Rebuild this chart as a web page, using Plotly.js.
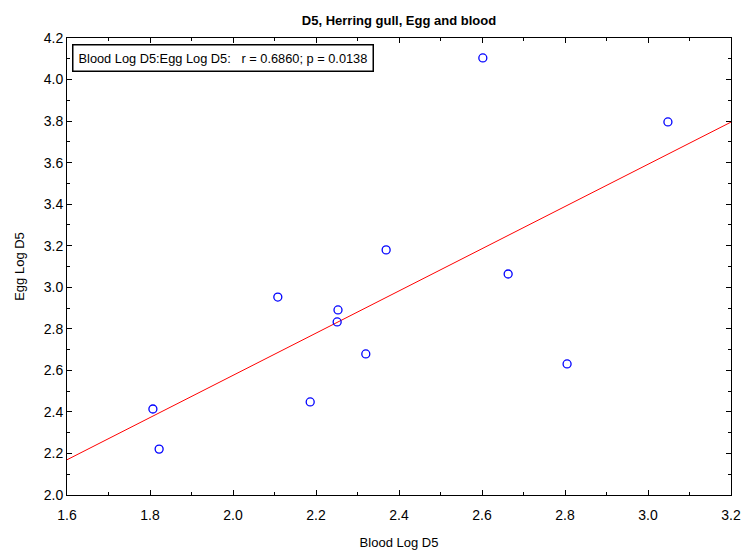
<!DOCTYPE html>
<html>
<head>
<meta charset="utf-8">
<script src="https://cdn.plot.ly/plotly-3.0.1.min.js"></script>
<style>html,body{margin:0;padding:0;background:#fff;}#chart{width:743px;height:551px;}</style>
</head>
<body>
<div id="chart"></div>
<script>
const bloodLogD5 = [1.807, 1.822, 2.108, 2.186, 2.253, 2.251, 2.320, 2.369, 2.602, 2.663, 2.805, 3.048];
const eggLogD5   = [2.414, 2.221, 2.953, 2.448, 2.891, 2.833, 2.679, 3.180, 4.104, 3.064, 2.631, 3.796];
const xTickVals = [1.6, 1.8, 2.0, 2.2, 2.4, 2.6, 2.8, 3.0, 3.2];
const yTickVals = [2.0, 2.2, 2.4, 2.6, 2.8, 3.0, 3.2, 3.4, 3.6, 3.8, 4.0, 4.2];
const statsLabel = "Blood Log D5:Egg Log D5:   r = 0.6860; p = 0.0138";

// least-squares fit
const n = bloodLogD5.length;
const mx = bloodLogD5.reduce((a,b)=>a+b,0)/n;
const my = eggLogD5.reduce((a,b)=>a+b,0)/n;
let sxy=0, sxx=0;
for (let i=0;i<n;i++){ sxy += (bloodLogD5[i]-mx)*(eggLogD5[i]-my); sxx += (bloodLogD5[i]-mx)**2; }
const slope = sxy/sxx, intercept = my - slope*mx;
const fitX = [xTickVals[0], xTickVals[xTickVals.length-1]];
const fitY = fitX.map(x => intercept + slope*x);

const font = "Liberation Sans, Arial, sans-serif";
const axisCommon = {
  showgrid:false, zeroline:false, showline:true, mirror:'ticks', linecolor:'#000', linewidth:1,
  ticks:'inside', ticklen:5, tickcolor:'#000', tickfont:{family:font,size:14,color:'#000'},
  tickformat:'.1f',
  minor:{ticks:'inside', ticklen:3, tickcolor:'#000', dtick:0.1}
};
const traces = [
  {x:fitX, y:fitY, mode:'lines', line:{color:'#ff0000', width:1}, hoverinfo:'skip'},
  {x:bloodLogD5, y:eggLogD5, mode:'markers', marker:{symbol:'circle-open', size:8, color:'#0000ff', line:{width:1.3, color:'#0000ff'}}}
];
const layout = {
  width:743, height:551, showlegend:false,
  paper_bgcolor:'#fff', plot_bgcolor:'#fff',
  margin:{l:67, r:12, t:38, b:56},
  title:{text:'<b>D5, Herring gull, Egg and blood</b>', font:{family:font,size:13,color:'#000'}, x:0.537, xanchor:'center', y:0.963, yanchor:'middle'},
  xaxis:Object.assign({}, axisCommon, {range:[1.6,3.2], tickvals:xTickVals, ticklabelstandoff:7,
    title:{text:'Blood Log D5', font:{family:font,size:13,color:'#000'}, standoff:16}}),
  yaxis:Object.assign({}, axisCommon, {range:[2.0,4.2], tickvals:yTickVals,
    title:{text:'Egg Log D5', font:{family:font,size:13,color:'#000'}, standoff:16}}),
  annotations:[{
    text:statsLabel, xref:'paper', yref:'paper', x:0.007, y:0.986, xanchor:'left', yanchor:'top',
    showarrow:false, font:{family:font,size:12.8,color:'#000'}, bordercolor:'#000', borderwidth:1.5,
    borderpad:5, bgcolor:'#fff', align:'left'
  }]
};
Plotly.newPlot('chart', traces, layout, {displayModeBar:false, staticPlot:true});
</script>
</body>
</html>
